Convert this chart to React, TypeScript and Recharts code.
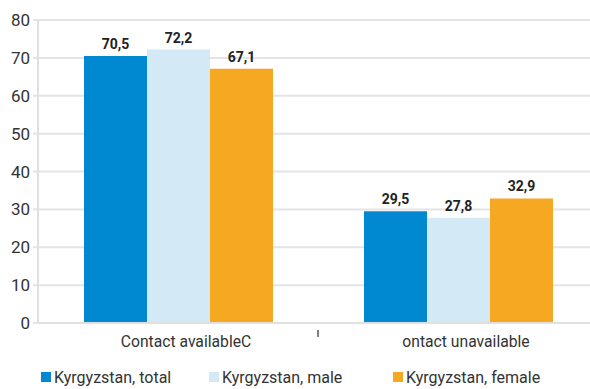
import React from 'react';
import { BarChart, Bar, XAxis, YAxis, CartesianGrid, Legend, LabelList } from 'recharts';

const categories = ['Contact availableC', 'ontact unavailable'];
const totalValues = [70.5, 29.5];
const maleValues = [72.2, 27.8];
const femaleValues = [67.1, 32.9];
const seriesNames = ['Kyrgyzstan, total', 'Kyrgyzstan, male', 'Kyrgyzstan, female'];
const yTicks = [0, 10, 20, 30, 40, 50, 60, 70, 80];

const colors = ['#0088D1', '#D3EAF6', '#F7A823'];
const legendItemWidths = [168, 184, 190];
const FONT = 'Roboto, "DejaVu Sans", sans-serif';

const data = categories.map((c, i) => ({
  name: c,
  total: totalValues[i],
  male: maleValues[i],
  female: femaleValues[i],
}));

const fmt = (v: any) => String(v).replace('.', ',');

const XTick = (props: any) => {
  const { x, y, payload } = props;
  const off = payload && typeof payload.offset === 'number' ? payload.offset : 0;
  return (
    <g>
      {off > 0 && <line x1={x + off} x2={x + off} y1={y - 1} y2={y + 6} stroke="#555" strokeWidth={1.5} />}
      <text x={x} y={y + 5} dx={8} dy="0.71em" textAnchor="middle" fill="#333" fontSize={15.7} fontFamily={FONT}>
        {payload.value}
      </text>
    </g>
  );
};

const LegendContent = () => (
  <div style={{ display: 'flex', alignItems: 'center', paddingLeft: 41, fontFamily: FONT, fontSize: 16, color: '#333', height: 24 }}>
    {seriesNames.map((n, i) => (
      <div key={n} style={{ display: 'flex', alignItems: 'center', width: legendItemWidths[i], flexShrink: 0 }}>
        <span style={{ display: 'inline-block', width: 10, height: 10, background: colors[i], marginRight: 3 }} />
        <span style={{ whiteSpace: 'nowrap' }}>{n}</span>
      </div>
    ))}
  </div>
);

export default function App() {
  return (
    <div style={{ position: 'absolute', left: 0, top: 0, width: 590, height: 389, overflow: 'hidden', background: '#fff' }}>
      <BarChart
        width={600}
        height={389}
        data={data}
        margin={{ top: 20, right: 2, bottom: 0, left: 0 }}
        barCategoryGap={46}
        barGap={0}
      >
        <CartesianGrid vertical={false} stroke="#e4e4e4" strokeWidth={2} />
        <YAxis
          width={38}
          domain={[0, 80]}
          ticks={yTicks}
          interval={0}
          tickSize={5}
          tickMargin={3}
          axisLine={{ stroke: '#e0e0e0', strokeWidth: 2 }}
          tickLine={{ stroke: '#e4e4e4', strokeWidth: 2 }}
          tick={{ fill: '#333', fontSize: 17, fontFamily: FONT }}
        />
        <XAxis
          dataKey="name"
          height={42}
          axisLine={{ stroke: '#e0e0e0', strokeWidth: 2 }}
          tickLine={false}
          interval={0}
          tick={<XTick />}
        />
        <Legend verticalAlign="bottom" height={24} content={<LegendContent />} />
        <Bar dataKey="total" fill={colors[0]} isAnimationActive={false}>
          <LabelList dataKey="total" position="top" offset={7} formatter={fmt} fill="#222" fontSize={14} fontWeight="bold" fontFamily={FONT} />
        </Bar>
        <Bar dataKey="male" fill={colors[1]} isAnimationActive={false}>
          <LabelList dataKey="male" position="top" offset={7} formatter={fmt} fill="#222" fontSize={14} fontWeight="bold" fontFamily={FONT} />
        </Bar>
        <Bar dataKey="female" fill={colors[2]} isAnimationActive={false}>
          <LabelList dataKey="female" position="top" offset={7} formatter={fmt} fill="#222" fontSize={14} fontWeight="bold" fontFamily={FONT} />
        </Bar>
      </BarChart>
    </div>
  );
}
